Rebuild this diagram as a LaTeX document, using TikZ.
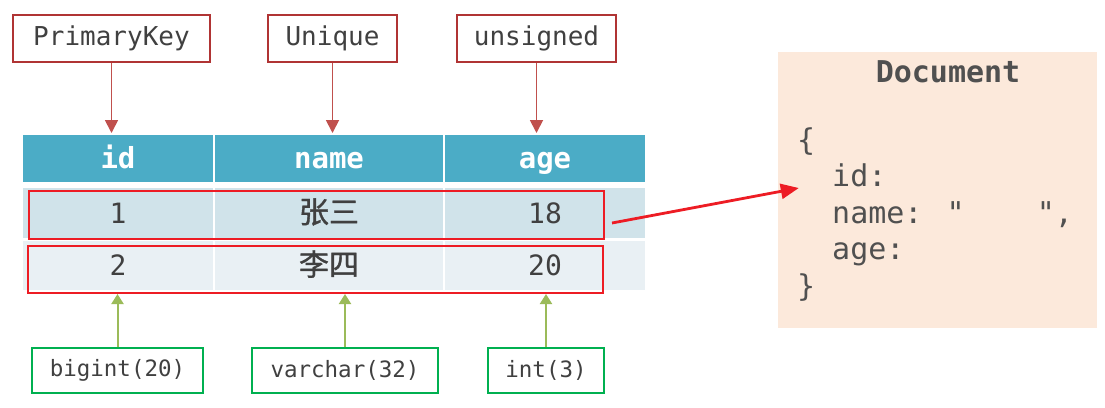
\documentclass[tikz,border=0pt]{standalone}
\usepackage{fontspec}
\setmainfont{DejaVu Sans Mono}[Ligatures=TeXOff]
\newfontfamily\cjk{Noto Sans CJK SC}[FakeBold=1.2]
\usetikzlibrary{arrows.meta}
\definecolor{lblred}{RGB}{176,52,52}
\definecolor{arrred}{RGB}{192,80,77}
\definecolor{hlred}{RGB}{237,28,36}
\definecolor{gbord}{RGB}{0,176,80}
\definecolor{garr}{RGB}{155,187,89}
\definecolor{hdr}{RGB}{75,172,198}
\definecolor{rowa}{RGB}{208,227,234}
\definecolor{rowb}{RGB}{233,240,244}
\definecolor{docfill}{RGB}{252,233,219}
\definecolor{txt}{RGB}{64,64,64}
\definecolor{doctxt}{RGB}{80,80,80}
\begin{document}
\begin{tikzpicture}[x=1pt,y=-1pt,
  topbox/.style={draw=lblred,line width=1.8pt,inner sep=0pt,minimum height=47pt,text=txt,font=\fontsize{26}{30}\selectfont},
  botbox/.style={draw=gbord,line width=1.8pt,inner sep=0pt,minimum height=45pt,text=txt,font=\fontsize{22.5}{26}\selectfont},
  tcell/.style={draw=white,line width=2pt,inner sep=0pt,text height=24pt,text depth=4pt},
  hcell/.style={tcell,fill=hdr,minimum height=49pt,text=white,font=\fontsize{29}{32}\selectfont\bfseries},
  cellA/.style={tcell,fill=rowa,minimum height=52pt,text=txt,font=\fontsize{28}{32}\selectfont},
  cellB/.style={tcell,fill=rowb,minimum height=51pt,text=txt,font=\fontsize{28}{32}\selectfont},
  hlbox/.style={draw=hlred,line width=2pt,inner sep=0pt,minimum width=575pt},
  tarrow/.style={draw=arrred,line width=1.8pt,-{Triangle[length=13pt,width=13pt]}},
  garrow/.style={draw=garr,line width=2pt,-{Triangle[length=10pt,width=12pt]}},
  rarrow/.style={draw=hlred,line width=2.8pt,-{Triangle[length=18pt,width=15pt]}},
  doctext/.style={text=doctxt,inner sep=0pt,anchor=base west,font=\fontsize{30}{36}\selectfont}
]
\useasboundingbox (0,0) rectangle (1105,407);

% top labels
\node[topbox,minimum width=197pt] (pk) at (111.5,38.5) {PrimaryKey};
\node[topbox,minimum width=129pt] (uq) at (332.5,38.5) {Unique};
\node[topbox,minimum width=159pt] (us) at (536.5,38.5) {unsigned};

% table header
\node[hcell,minimum width=192pt] (hid) at (118,158.5) {id};
\node[hcell,minimum width=230pt] (hname) at (329,158.5) {name};
\node[hcell,minimum width=202pt] (hage) at (545,158.5) {age};

% row 1
\node[cellA,minimum width=192pt] (a1) at (118,213) {1};
\node[cellA,minimum width=230pt] (a2) at (329,213) {\cjk\fontsize{30}{32}\selectfont 张三};
\node[cellA,minimum width=202pt] (a3) at (545,213) {18};

% row 2
\node[cellB,minimum width=192pt] (b1) at (118,265.5) {2};
\node[cellB,minimum width=230pt] (b2) at (329,265.5) {\cjk\fontsize{30}{32}\selectfont 李四};
\node[cellB,minimum width=202pt] (b3) at (545,265.5) {20};

% highlight boxes
\node[hlbox,minimum height=48pt] (r1) at (316.5,215) {};
\node[hlbox,minimum height=47pt] (r2) at (315.5,269.5) {};

% bottom labels
\node[botbox,minimum width=171pt] (bi) at (117.5,370.5) {bigint(20)};
\node[botbox,minimum width=186pt] (vc) at (345,370.5) {varchar(32)};
\node[botbox,minimum width=116pt] (i3) at (546,370.5) {int(3)};

% document
\node[fill=docfill,inner sep=0pt,minimum width=319pt,minimum height=276pt] (doc) at (937.5,190) {};
\node[text=doctxt,font=\fontsize{30}{34}\selectfont\bfseries] (dtitle) at (948,72) {Document};
\node[doctext] (d1) at (797,150) {\{};
\node[doctext] (d2) at (832,186.5) {id:};
\node[doctext] (d3) at (832,223) {name: "\hphantom{0000}",};
\node[doctext] (d4) at (832,259.5) {age:};
\node[doctext] (d5) at (797,296) {\}};

% connectors
\draw[tarrow] (pk.south) -- (pk.south |- hid.north);
\draw[tarrow] (uq.south) -- (uq.south |- hname.north);
\draw[tarrow] (us.south) -- (us.south |- hage.north);

\draw[garrow] (bi.north) -- (bi.north |- r2.south);
\draw[garrow] (vc.north) -- (vc.north |- r2.south);
\draw[garrow] (i3.north) -- (i3.north |- r2.south);

\coordinate (ra) at ([shift={(7,8)}]r1.east);
\coordinate (rb) at ([shift={(21,-2)}]doc.west);
\draw[rarrow] (ra) -- (rb);
\end{tikzpicture}
\end{document}
